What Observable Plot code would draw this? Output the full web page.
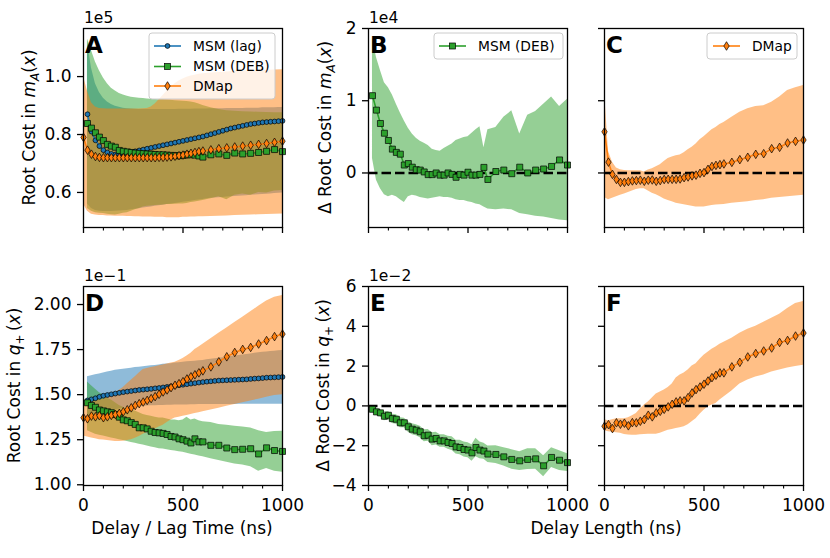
<!DOCTYPE html>
<html><head><meta charset="utf-8">
<script src="https://cdn.jsdelivr.net/npm/d3@7"></script>
<script src="https://cdn.jsdelivr.net/npm/@observablehq/plot@0.6"></script>
<style>
body{margin:0;background:#fff;}
#fig{position:relative;width:830px;height:558px;font-family:"DejaVu Sans",sans-serif;background:#fff;}
#fig svg{position:absolute;left:0;top:0;}
</style></head><body><div id="fig"></div>
<script>
// ---------- x values ----------
const lagTimes = [20,40,60,80,100,120,140,160,180,200,220,240,260,280,300,320,340,360,380,400,420,440,460,480,500,520,540,560,580,600,620,640,660,680,700,720,740,760,780,800,820,840,860,880,900,920,940,960,980,1000];
const debDelays = [20,40,60,80,100,120,140,160,180,200,220,240,260,280,300,320,340,360,380,400,420,440,460,480,500,520,540,560,580,600,640,680,720,760,800,840,880,920,960,1000];
const dmapDelays = [0,20,40,60,80,100,120,140,160,180,200,220,240,260,280,300,320,340,360,380,400,420,440,460,480,500,520,540,560,580,600,640,680,720,760,800,840,880,920,960,1000];

// ---------- Panel A: root cost in m_A(x), units of 1e5 ----------
const aLagMean = [0.870,0.810,0.780,0.760,0.746,0.738,0.733,0.731,0.731,0.733,0.736,0.739,0.742,0.745,0.748,0.751,0.754,0.757,0.760,0.763,0.766,0.769,0.772,0.775,0.778,0.781,0.784,0.787,0.790,0.793,0.797,0.801,0.805,0.809,0.813,0.817,0.821,0.824,0.827,0.830,0.833,0.836,0.838,0.840,0.842,0.843,0.844,0.845,0.846,0.847];
const aLagHi = [1.120,1.030,0.975,0.945,0.925,0.912,0.904,0.898,0.894,0.891,0.889,0.888,0.887,0.886,0.886,0.886,0.886,0.886,0.886,0.886,0.886,0.886,0.886,0.887,0.887,0.887,0.887,0.888,0.888,0.888,0.888,0.889,0.889,0.889,0.889,0.890,0.890,0.890,0.890,0.890,0.891,0.891,0.891,0.891,0.892,0.892,0.892,0.892,0.893,0.893];
const aLagLo = [0.560,0.545,0.538,0.535,0.534,0.534,0.534,0.535,0.536,0.537,0.538,0.540,0.542,0.544,0.546,0.548,0.550,0.552,0.554,0.556,0.558,0.560,0.562,0.564,0.566,0.568,0.570,0.572,0.574,0.576,0.578,0.580,0.581,0.582,0.583,0.584,0.585,0.586,0.587,0.588,0.589,0.590,0.591,0.592,0.593,0.594,0.595,0.596,0.597,0.598];
const aDebMean = [0.838,0.822,0.806,0.791,0.779,0.766,0.760,0.756,0.745,0.742,0.740,0.738,0.736,0.735,0.734,0.733,0.732,0.731,0.730,0.730,0.729,0.728,0.727,0.727,0.728,0.730,0.730,0.729,0.726,0.722,0.730,0.733,0.728,0.736,0.733,0.735,0.738,0.742,0.748,0.741];
const aDebHi = [1.130,1.090,1.050,1.020,0.995,0.975,0.960,0.950,0.942,0.936,0.932,0.929,0.927,0.925,0.924,0.923,0.922,0.921,0.920,0.920,0.919,0.918,0.917,0.916,0.915,0.914,0.912,0.910,0.905,0.900,0.892,0.886,0.882,0.880,0.879,0.878,0.877,0.876,0.875,0.875];
const aDebLo = [0.545,0.535,0.530,0.528,0.527,0.525,0.523,0.522,0.525,0.528,0.530,0.535,0.540,0.545,0.550,0.552,0.553,0.555,0.556,0.557,0.558,0.558,0.559,0.560,0.560,0.562,0.565,0.567,0.570,0.572,0.578,0.585,0.575,0.590,0.595,0.590,0.600,0.598,0.605,0.607];
const aDmapMean = [0.790,0.746,0.732,0.724,0.721,0.720,0.720,0.720,0.720,0.720,0.720,0.720,0.720,0.720,0.720,0.720,0.720,0.720,0.720,0.721,0.721,0.722,0.723,0.725,0.727,0.729,0.732,0.735,0.738,0.741,0.743,0.747,0.751,0.754,0.757,0.760,0.763,0.766,0.769,0.773,0.777];
const aDmapHi = [1.000,0.950,0.910,0.895,0.890,0.889,0.888,0.888,0.888,0.888,0.888,0.888,0.888,0.888,0.888,0.889,0.890,0.895,0.905,0.920,0.935,0.950,0.963,0.975,0.985,0.992,0.998,1.002,1.005,1.008,1.010,1.012,1.014,1.016,1.018,1.019,1.020,1.021,1.022,1.023,1.024];
const aDmapLo = [0.560,0.535,0.525,0.522,0.520,0.520,0.519,0.519,0.518,0.518,0.518,0.517,0.517,0.516,0.516,0.515,0.515,0.515,0.514,0.514,0.514,0.513,0.513,0.513,0.513,0.514,0.514,0.515,0.515,0.516,0.516,0.517,0.518,0.519,0.520,0.521,0.522,0.523,0.524,0.525,0.526];

// ---------- Panel B: delta root cost in m_A(x), MSM (DEB), units of 1e4 ----------
const bDebMean = [1.07,0.87,0.685,0.55,0.45,0.33,0.285,0.26,0.11,0.13,0.08,0.045,0.04,0.014,-0.023,-0.023,0.0,-0.03,-0.03,0.0,-0.02,-0.06,-0.02,-0.03,0.01,-0.03,-0.03,-0.02,0.077,-0.09,0.02,0.04,-0.01,0.08,0.0,0.04,0.055,0.09,0.18,0.11];
const bDebHi = [1.87,1.6,1.42,1.25,1.18,1.08,0.95,0.83,0.72,0.62,0.54,0.48,0.44,0.41,0.38,0.33,0.31,0.3,0.34,0.37,0.4,0.45,0.47,0.49,0.5,0.55,0.6,0.64,0.35,0.6,0.63,0.77,0.86,0.54,0.8,0.85,0.95,1.05,0.92,1.02];
const bDebLo = [0.2,-0.1,-0.22,-0.3,-0.33,-0.31,-0.33,-0.37,-0.41,-0.33,-0.31,-0.32,-0.34,-0.35,-0.36,-0.35,-0.34,-0.33,-0.34,-0.34,-0.35,-0.37,-0.38,-0.38,-0.4,-0.41,-0.43,-0.44,-0.47,-0.5,-0.51,-0.5,-0.51,-0.56,-0.58,-0.6,-0.61,-0.63,-0.65,-0.66];

// ---------- Panel C: delta root cost in m_A(x), DMap, units of 1e4 ----------
const cDmapMean = [0.57,0.15,-0.02,-0.09,-0.13,-0.13,-0.12,-0.11,-0.105,-0.10,-0.115,-0.10,-0.097,-0.115,-0.105,-0.09,-0.088,-0.088,-0.088,-0.083,-0.065,-0.055,-0.04,-0.03,-0.005,0.005,0.05,0.09,0.105,0.115,0.125,0.147,0.184,0.217,0.258,0.267,0.336,0.355,0.415,0.438,0.456];
const cDmapHi = [1.14,0.3,0.15,0.07,0.045,0.035,0.03,0.03,0.03,0.03,0.012,0.04,0.06,0.085,0.115,0.16,0.2,0.22,0.24,0.25,0.28,0.32,0.355,0.4,0.46,0.5,0.55,0.6,0.63,0.67,0.7,0.77,0.84,0.89,0.92,0.93,0.98,1.05,1.14,1.18,1.21];
const cDmapLo = [-0.34,-0.37,-0.35,-0.33,-0.31,-0.29,-0.27,-0.25,-0.23,-0.22,-0.22,-0.25,-0.28,-0.3,-0.33,-0.36,-0.38,-0.4,-0.42,-0.43,-0.44,-0.45,-0.46,-0.47,-0.47,-0.47,-0.46,-0.45,-0.445,-0.44,-0.435,-0.42,-0.41,-0.4,-0.38,-0.37,-0.35,-0.34,-0.33,-0.32,-0.31];

// ---------- Panel D: root cost in q+(x), units of 1e-1 ----------
const dLagMean = [1.468,1.474,1.480,1.488,1.494,1.498,1.502,1.506,1.510,1.514,1.517,1.520,1.523,1.526,1.528,1.530,1.532,1.535,1.537,1.540,1.543,1.546,1.549,1.552,1.555,1.558,1.561,1.564,1.567,1.570,1.572,1.574,1.576,1.578,1.579,1.580,1.581,1.582,1.583,1.584,1.585,1.587,1.589,1.590,1.592,1.594,1.595,1.596,1.597,1.598];
const dLagHi = [1.600,1.605,1.610,1.615,1.620,1.625,1.630,1.635,1.638,1.641,1.644,1.647,1.650,1.652,1.655,1.657,1.660,1.662,1.665,1.668,1.670,1.672,1.675,1.677,1.680,1.682,1.684,1.686,1.688,1.690,1.693,1.696,1.699,1.702,1.705,1.708,1.711,1.714,1.717,1.720,1.723,1.726,1.729,1.732,1.735,1.737,1.739,1.741,1.743,1.745];
const dLagLo = [1.360,1.370,1.380,1.390,1.400,1.405,1.410,1.415,1.420,1.424,1.427,1.430,1.432,1.434,1.436,1.437,1.438,1.439,1.440,1.440,1.441,1.441,1.442,1.442,1.443,1.443,1.444,1.444,1.445,1.445,1.445,1.445,1.446,1.446,1.446,1.446,1.446,1.446,1.447,1.447,1.447,1.447,1.447,1.447,1.447,1.447,1.447,1.447,1.447,1.447];
const dDebMean = [1.455,1.440,1.430,1.415,1.410,1.405,1.400,1.390,1.375,1.360,1.355,1.345,1.335,1.316,1.316,1.310,1.297,1.290,1.288,1.285,1.279,1.268,1.265,1.255,1.250,1.242,1.232,1.255,1.238,1.238,1.219,1.219,1.204,1.195,1.197,1.200,1.171,1.205,1.190,1.185];
const dDebHi = [1.570,1.550,1.530,1.510,1.500,1.480,1.470,1.455,1.440,1.430,1.420,1.415,1.410,1.400,1.390,1.385,1.380,1.375,1.370,1.370,1.365,1.360,1.360,1.355,1.360,1.375,1.360,1.365,1.355,1.350,1.345,1.335,1.330,1.325,1.320,1.315,1.300,1.290,1.295,1.297];
const dDebLo = [1.300,1.290,1.280,1.275,1.270,1.265,1.260,1.255,1.250,1.245,1.240,1.235,1.230,1.225,1.220,1.215,1.210,1.205,1.200,1.198,1.195,1.190,1.187,1.183,1.180,1.175,1.170,1.165,1.160,1.155,1.145,1.135,1.125,1.115,1.110,1.100,1.075,1.090,1.075,1.070];
const dDmapMean = [1.372,1.366,1.381,1.377,1.383,1.372,1.377,1.385,1.390,1.396,1.405,1.416,1.427,1.440,1.450,1.459,1.468,1.478,1.489,1.502,1.515,1.526,1.539,1.552,1.561,1.572,1.587,1.599,1.610,1.621,1.632,1.654,1.682,1.710,1.734,1.751,1.762,1.781,1.800,1.822,1.836];
const dDmapHi = [1.450,1.455,1.460,1.465,1.470,1.475,1.485,1.495,1.510,1.525,1.540,1.560,1.580,1.600,1.620,1.640,1.645,1.650,1.655,1.660,1.665,1.670,1.675,1.680,1.690,1.700,1.715,1.730,1.750,1.765,1.780,1.810,1.840,1.870,1.900,1.930,1.960,1.990,2.020,2.040,2.050];
const dDmapLo = [1.270,1.265,1.260,1.255,1.250,1.248,1.245,1.243,1.240,1.240,1.242,1.245,1.250,1.258,1.268,1.280,1.290,1.300,1.310,1.320,1.330,1.345,1.360,1.370,1.375,1.380,1.385,1.390,1.395,1.400,1.405,1.415,1.425,1.435,1.445,1.455,1.465,1.475,1.485,1.495,1.500];

// ---------- Panel E: delta root cost in q+(x), MSM (DEB), units of 1e-2 ----------
const eDebMean = [-0.17,-0.30,-0.35,-0.52,-0.47,-0.64,-0.67,-0.85,-0.85,-1.05,-1.17,-1.22,-1.30,-1.50,-1.47,-1.67,-1.64,-1.76,-1.76,-1.84,-1.89,-2.06,-2.09,-2.19,-2.22,-2.36,-2.09,-2.22,-2.27,-2.42,-2.44,-2.56,-2.69,-2.76,-2.69,-2.66,-3.01,-2.59,-2.73,-2.85];
const eDebHi = [-0.05,-0.12,-0.18,-0.30,-0.28,-0.42,-0.45,-0.60,-0.62,-0.80,-0.90,-0.95,-1.02,-1.20,-1.18,-1.35,-1.32,-1.45,-1.45,-1.52,-1.55,-1.72,-1.73,-1.82,-1.85,-1.95,-1.62,-1.82,-1.88,-2.02,-2.00,-2.10,-2.20,-2.30,-2.15,-2.15,-2.50,-2.10,-2.25,-2.40];
const eDebLo = [-0.30,-0.48,-0.55,-0.75,-0.70,-0.88,-0.92,-1.10,-1.10,-1.32,-1.45,-1.50,-1.60,-1.80,-1.78,-2.00,-1.97,-2.08,-2.08,-2.18,-2.24,-2.42,-2.46,-2.57,-2.60,-2.78,-2.55,-2.65,-2.68,-2.85,-2.90,-3.02,-3.18,-3.25,-3.20,-3.18,-3.56,-3.10,-3.25,-3.30];

// ---------- Panel F: delta root cost in q+(x), DMap, units of 1e-2 ----------
const fDmapMean = [-1.02,-0.94,-1.14,-0.85,-0.92,-0.87,-1.00,-0.84,-0.85,-0.77,-0.69,-0.47,-0.55,-0.35,-0.27,-0.17,-0.05,0.08,0.20,0.25,0.25,0.42,0.65,0.82,0.95,1.09,1.25,1.42,1.54,1.66,1.66,1.96,2.19,2.46,2.63,2.76,2.91,3.19,3.29,3.51,3.66];
const fDmapHi = [-0.70,-0.75,-0.70,-0.64,-0.64,-0.64,-0.60,-0.50,-0.38,-0.15,0.05,0.20,0.40,0.60,0.70,0.80,0.92,1.10,1.40,1.55,1.65,1.80,2.00,2.12,2.35,2.55,2.70,2.85,2.96,3.10,3.20,3.40,3.65,3.85,4.00,4.20,4.40,4.60,4.90,5.15,5.25];
const fDmapLo = [-1.25,-1.30,-1.32,-1.35,-1.38,-1.44,-1.46,-1.47,-1.47,-1.45,-1.44,-1.43,-1.43,-1.42,-1.38,-1.30,-1.22,-1.18,-1.14,-1.10,-1.05,-0.95,-0.80,-0.64,-0.42,-0.22,-0.05,0.05,0.12,0.30,0.45,0.75,1.10,1.30,1.45,1.55,1.70,1.80,1.90,1.98,2.04];

// ---------- tick values / labels ----------
const xMajor = [0,500,1000];
const xMinor = [100,200,300,400,600,700,800,900];
const yTicksA = [0.6,0.8,1.0];
const yTicksB = [0,1,2];
const yTicksD = [1.00,1.25,1.50,1.75,2.00];
const yTicksE = [-4,-2,0,2,4,6];
const seriesNames = ["MSM (lag)","MSM (DEB)","DMap"];

// ---------- styling ----------
const W = 830, H = 558;
const FONT = "DejaVu Sans";
const COL = {lag:"#1f77b4", deb:"#2ca02c", dmap:"#ff7f0e"};
const thinDiamond = {draw(ctx, size){const r=Math.sqrt(size/Math.PI); const w=r*0.62; ctx.moveTo(0,-r); ctx.lineTo(w,0); ctx.lineTo(0,r); ctx.lineTo(-w,0); ctx.closePath();}};
const MARK = {lag:{symbol:"circle", r:2.4}, deb:{symbol:"square", r:3.4}, dmap:{symbol:thinDiamond, r:4.3}};
const minus = d => (d < 0 ? "\u2212" + Math.abs(d) : String(d));

function rows(xs, ys, lo, hi){ return xs.map((x,i)=>({x, y:ys[i], lo:lo[i], hi:hi[i]})); }
function band(data, kind){ return Plot.areaY(data, {x:"x", y1:"lo", y2:"hi", fill:COL[kind], fillOpacity:0.5}); }
function lineDots(data, kind){
  return [
    Plot.line(data, {x:"x", y:"y", stroke:COL[kind], strokeWidth:1.6}),
    Plot.dot(data, {x:"x", y:"y", fill:COL[kind], stroke:"black", strokeWidth:0.7, symbol:MARK[kind].symbol, r:MARK[kind].r})
  ];
}

const COLS = [[83,282],[368,567],[604,803]];
const ROWS = [[28,227],[286,485]];

function panel(col, row, yDomain, yTicks, yFmt, showY, showX, marks){
  const [x0,x1] = COLS[col], [y0,y1] = ROWS[row];
  return Plot.plot({
    width: W, height: H,
    marginLeft: x0, marginRight: W - x1, marginTop: y0, marginBottom: H - y1,
    style: {background:"none", fontFamily: FONT, fontSize:"17px", color:"black", overflow:"visible", maxWidth:"none"},
    x: {domain:[0,1000]},
    y: {domain: yDomain},
    marks: [
      ...marks,
      Plot.frame({stroke:"black", strokeWidth:1.3}),
      Plot.axisX({ticks:xMajor, tickSize:6, tickPadding:7, tickFormat:d=>String(d), fill: showX ? "black" : "none", label:null, strokeWidth:1.3}),
      Plot.axisX({ticks:xMinor, tickSize:3.5, fill:"none", label:null, strokeWidth:1.1}),
      Plot.axisY({ticks:yTicks, tickSize:6, tickPadding:6, tickFormat:yFmt, fill: showY ? "black" : "none", label:null, strokeWidth:1.3})
    ]
  });
}
const zero = Plot.ruleY([0], {stroke:"black", strokeWidth:2.5, strokeDasharray:"9.5,4"});

const aLag = rows(lagTimes, aLagMean, aLagLo, aLagHi);
const aDeb = rows(debDelays, aDebMean, aDebLo, aDebHi);
const aDmap = rows(dmapDelays, aDmapMean, aDmapLo, aDmapHi);
const bDeb = rows(debDelays, bDebMean, bDebLo, bDebHi);
const cDmap = rows(dmapDelays, cDmapMean, cDmapLo, cDmapHi);
const dLag = rows(lagTimes, dLagMean, dLagLo, dLagHi);
const dDeb = rows(debDelays, dDebMean, dDebLo, dDebHi);
const dDmap = rows(dmapDelays, dDmapMean, dDmapLo, dDmapHi);
const eDeb = rows(debDelays, eDebMean, eDebLo, eDebHi);
const fDmap = rows(dmapDelays, fDmapMean, fDmapLo, fDmapHi);

const fig = document.getElementById("fig");
const plots = [
  panel(0,0,[0.479,1.166], yTicksA, d=>d.toFixed(1), true, false,
    [band(aLag,"lag"), band(aDeb,"deb"), band(aDmap,"dmap"), ...lineDots(aLag,"lag"), ...lineDots(aDeb,"deb"), ...lineDots(aDmap,"dmap")]),
  panel(1,0,[-0.755,2.0], yTicksB, minus, true, false,
    [band(bDeb,"deb"), zero, ...lineDots(bDeb,"deb")]),
  panel(2,0,[-0.755,2.0], yTicksB, minus, false, false,
    [band(cDmap,"dmap"), zero, ...lineDots(cDmap,"dmap")]),
  panel(0,1,[0.996,2.10], yTicksD, d=>d.toFixed(2), true, true,
    [band(dLag,"lag"), band(dDeb,"deb"), band(dDmap,"dmap"), ...lineDots(dLag,"lag"), ...lineDots(dDeb,"deb"), ...lineDots(dDmap,"dmap")]),
  panel(1,1,[-4,6], yTicksE, minus, true, true,
    [band(eDeb,"deb"), zero, ...lineDots(eDeb,"deb")]),
  panel(2,1,[-4,6], yTicksE, minus, false, true,
    [band(fDmap,"dmap"), zero, ...lineDots(fDmap,"dmap")])
];
plots.forEach(p => fig.appendChild(p));

// ---------- overlay: labels, letters, offsets, legends ----------
const ov = d3.select(fig).append("svg").attr("width",W).attr("height",H)
  .style("font-family",FONT).style("overflow","visible");

function ylabel(x, y, prefix, sym, sub, subItalic){
  const t = ov.append("text").attr("transform",`translate(${x},${y}) rotate(-90)`)
    .attr("text-anchor","middle").attr("font-size",17).style("white-space","pre");
  t.append("tspan").text(prefix);
  t.append("tspan").attr("font-style","italic").text(sym);
  t.append("tspan").attr("font-size",12).attr("dy",3.5).attr("font-style",subItalic?"italic":"normal").text(sub);
  t.append("tspan").attr("dy",-3.5).text(subItalic ? "(" : "\u2009(");
  t.append("tspan").attr("font-style","italic").text("x");
  t.append("tspan").text(")");
}
ylabel(35, 127.5, "Root Cost in ", "m", "A", true);
ylabel(331, 127.5, "\u0394 Root Cost in ", "m", "A", true);
ylabel(20, 385.5, "Root Cost in ", "q", "+", false);
ylabel(329, 385.5, "\u0394 Root Cost in ", "q", "+", false);

ov.append("text").attr("x",182).attr("y",534).attr("text-anchor","middle").attr("font-size",17).text("Delay / Lag Time (ns)");
ov.append("text").attr("x",606).attr("y",534).attr("text-anchor","middle").attr("font-size",17).text("Delay Length (ns)");

const offsets = [["1e5",0,0],["1e4",1,0],["1e\u22121",0,1],["1e\u22122",1,1]];
offsets.forEach(([t,c,r]) => ov.append("text").attr("x",COLS[c][0]+1).attr("y",ROWS[r][0]-5).attr("font-size",15.5).text(t));

const letters = ["A","B","C","D","E","F"];
letters.forEach((L,i) => {
  const c = i % 3, r = Math.floor(i/3);
  ov.append("text").attr("x",COLS[c][0]+2).attr("y",ROWS[r][0]+25).attr("font-size",23).attr("font-weight","bold").text(L);
});

function marker(g, kind, cx, cy){
  if (kind === "lag") g.append("circle").attr("cx",cx).attr("cy",cy).attr("r",2.4).attr("fill",COL.lag).attr("stroke","black").attr("stroke-width",0.7);
  else if (kind === "deb") g.append("rect").attr("x",cx-3).attr("y",cy-3).attr("width",6).attr("height",6).attr("fill",COL.deb).attr("stroke","black").attr("stroke-width",0.7);
  else g.append("path").attr("d",`M${cx},${cy-4.3}L${cx+2.7},${cy}L${cx},${cy+4.3}L${cx-2.7},${cy}Z`).attr("fill",COL.dmap).attr("stroke","black").attr("stroke-width",0.7);
}
function legend(box, items){
  const g = ov.append("g");
  g.append("rect").attr("x",box[0]).attr("y",box[1]).attr("width",box[2]-box[0]).attr("height",box[3]-box[1])
    .attr("rx",3).attr("fill","white").attr("fill-opacity",0.8).attr("stroke","#cccccc").attr("stroke-width",1);
  items.forEach(([kind,name,lx,ly]) => {
    g.append("line").attr("x1",lx).attr("x2",lx+27).attr("y1",ly).attr("y2",ly).attr("stroke",COL[kind]).attr("stroke-width",1.6);
    marker(g, kind, lx+13.5, ly);
    g.append("text").attr("x",lx+39).attr("y",ly).attr("dy","0.36em").attr("font-size",13.8).text(name);
  });
}
legend([149,33,275,99], [["lag",seriesNames[0],154,46],["deb",seriesNames[1],154,66.5],["dmap",seriesNames[2],154,86]]);
legend([434,33,563,59], [["deb",seriesNames[1],439,46]]);
legend([707,33,797,59], [["dmap",seriesNames[2],713,46]]);
</script></body></html>
